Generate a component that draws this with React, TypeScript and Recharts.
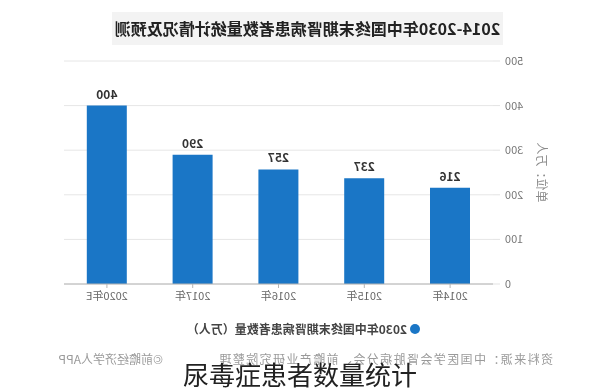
import { BarChart, Bar, XAxis, YAxis, CartesianGrid, LabelList } from 'recharts';

const years = ['2014年', '2015年', '2016年', '2017年', '2020年E'];
const patients = [216, 237, 257, 290, 400];
const yTicks = [0, 100, 200, 300, 400, 500];

const title = '2014-2030年中国终末期肾病患者数量统计情况及预测';
const seriesName = '2030年中国终末期肾病患者数量（万人）';
const unitLabel = '单位：万人';
const sourceText = '资料来源：中国医学会肾脏病分会、前瞻产业研究院整理';
const brandText = '©前瞻经济学人APP';
const caption = '尿毒症患者数量统计';

const chartData = years.map((year, i) => ({ year, value: patients[i] }));

const FONT = '"Noto Sans CJK SC", "Noto Sans", sans-serif';
const BLUE = '#1a76c6';

const UnitLabel = ({ viewBox }: any) => {
  const cx = 57;
  const cy = viewBox.y + viewBox.height / 2;
  return (
    <text
      x={cx}
      y={cy}
      transform={`rotate(-90 ${cx} ${cy})`}
      textAnchor="middle"
      dominantBaseline="central"
      fontSize={12}
      fill="#8a8a8a"
      fontFamily={FONT}
    >
      {unitLabel}
    </text>
  );
};

export default function App() {
  return (
    <div
      style={{
        position: 'absolute',
        left: 0,
        top: 0,
        width: 600,
        height: 392,
        background: '#fff',
        overflow: 'hidden',
        fontFamily: FONT,
      }}
    >
      {/* the reference is a mirror image, so the whole chart is flipped */}
      <div style={{ position: 'absolute', left: 0, top: 0, width: 600, height: 392, transform: 'scaleX(-1)' }}>
        <div
          style={{
            position: 'absolute',
            left: 97,
            top: 12,
            width: 391,
            height: 33,
            background: '#f3f3f3',
            textAlign: 'center',
            lineHeight: '33px',
            fontSize: 16,
            fontWeight: 700,
            color: '#222',
            whiteSpace: 'nowrap',
          }}
        >
          {title}
        </div>

        <BarChart
          width={600}
          height={392}
          data={chartData}
          margin={{ top: 61, right: 64, left: 38, bottom: 78 }}
          barSize={40}
        >
          <CartesianGrid vertical={false} stroke="#e6e6e6" />
          <XAxis
            dataKey="year"
            height={30}
            axisLine={{ stroke: '#b5b5b5' }}
            tickLine={{ stroke: '#b5b5b5' }}
            tickSize={4}
            tickMargin={4}
            tick={{ fill: '#666', fontSize: 11, fontFamily: FONT }}
          />
          <YAxis
            width={69}
            domain={[0, 500]}
            ticks={yTicks}
            axisLine={false}
            tickLine={{ stroke: '#e3e3e3' }}
            tickSize={7}
            tickMargin={5}
            tick={{ fill: '#777', fontSize: 11, fontFamily: FONT }}
            label={<UnitLabel />}
          />
          <Bar dataKey="value" name={seriesName} fill={BLUE} isAnimationActive={false}>
            <LabelList
              dataKey="value"
              position="top"
              offset={7}
              fill="#333"
              fontSize={12}
              fontWeight={700}
              fontFamily={FONT}
            />
          </Bar>
        </BarChart>

        {/* legend */}
        <div style={{ position: 'absolute', left: 180, top: 320, display: 'flex', alignItems: 'center' }}>
          <span
            style={{
              display: 'inline-block',
              width: 10,
              height: 10,
              borderRadius: 5,
              background: BLUE,
              marginRight: 3,
            }}
          />
          <span style={{ fontSize: 12, fontWeight: 700, color: '#444', whiteSpace: 'nowrap' }}>{seriesName}</span>
        </div>

        <div
          style={{
            position: 'absolute',
            left: 47,
            top: 350,
            fontSize: 12,
            letterSpacing: 1.4,
            color: '#9a9a9a',
            whiteSpace: 'nowrap',
          }}
        >
          {sourceText}
        </div>
        <div
          style={{
            position: 'absolute',
            left: 437,
            top: 350,
            fontSize: 12,
            color: '#9a9a9a',
            whiteSpace: 'nowrap',
          }}
        >
          {brandText}
        </div>
      </div>

      <div
        style={{
          position: 'absolute',
          left: 0,
          top: 360,
          width: 600,
          textAlign: 'center',
          fontSize: 26,
          lineHeight: '28px',
          color: '#222',
          whiteSpace: 'nowrap',
        }}
      >
        {caption}
      </div>
    </div>
  );
}
